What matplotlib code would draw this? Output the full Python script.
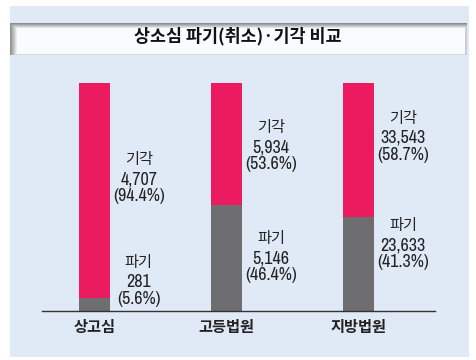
import matplotlib
matplotlib.use("Agg")
import matplotlib.pyplot as plt
import numpy as np
from matplotlib.patches import Rectangle

plt.rcParams['font.family'] = ['Archivo Narrow', 'Noto Sans CJK KR', 'DejaVu Sans']

# ---- data ----
categories = ['상고심', '고등법원', '지방법원']
reversed_counts = [281, 5146, 23633]      # 파기
dismissed_counts = [4707, 5934, 33543]    # 기각
reversed_pct = [5.6, 46.4, 41.3]
dismissed_pct = [94.4, 53.6, 58.7]
title = '상소심 파기(취소)·기각 비교'
reversed_name = '파기'
dismissed_name = '기각'

# label block centres (fraction of bar height), positions only
dismissed_label_y = [0.578, 0.718, 0.758]
reversed_label_y = [0.127, 0.232, 0.289]

BG = '#e0e9f6'
PINK = '#ec1a5e'
GRAY = '#6e6e70'
TXT = '#222222'

W, H = 476, 360
fig = plt.figure(figsize=(W / 100, H / 100), dpi=100)
fig.patch.set_facecolor('white')

# background panel
bgax = fig.add_axes([0, 0, 1, 1], zorder=-10)
bgax.set_xlim(0, W)
bgax.set_ylim(H, 0)
bgax.axis('off')
bgax.add_patch(Rectangle((10, 6), 459, 351, facecolor=BG, edgecolor='none'))

# title band with shaded edges
bh, bw = 32, 457
band = np.ones((bh, bw))
for r in range(bh):
    band[r, :] = np.minimum(band[r, :], 0.56 + 0.44 * min(1, r / 5.0))
for c in range(8):
    band[:, c] = np.minimum(band[:, c], 0.58 + 0.42 * (c / 7.0))
band[:, -2:] = np.minimum(band[:, -2:], 0.82)
band[-1, :] = np.minimum(band[-1, :], 0.86)
rgb = np.stack([band * 0.98, band * 0.985, band], axis=-1)
rgb = np.clip(rgb, 0, 1)
bax = fig.add_axes([10 / W, 1 - 55 / H, bw / W, bh / H], zorder=-5)
bax.imshow(rgb, aspect='auto', interpolation='bilinear')
bax.axis('off')
fig.text(238 / W, 1 - 36.5 / H, title, ha='center', va='center',
         fontsize=12.5, fontweight='bold', color='#111111',
         family=['Noto Sans CJK KR', 'DejaVu Sans'])

# main axes
ax = fig.add_axes([42 / W, 1 - 311 / H, (435 - 42) / W, (311 - 82.7) / H])
ax.set_facecolor('none')
x = np.arange(len(categories))
rb = np.array(reversed_pct) / 100
db = np.array(dismissed_pct) / 100
bw_ = 0.234
ax.bar(x, rb, width=bw_, color=GRAY, linewidth=0)
ax.bar(x, db, bottom=rb, width=bw_, color=PINK, linewidth=0)
ax.set_xlim(-0.397, 2.575)
ax.set_ylim(0, 1)
for s in ['top', 'right', 'left']:
    ax.spines[s].set_visible(False)
ax.spines['bottom'].set_color('#333333')
ax.spines['bottom'].set_linewidth(1.0)
ax.set_yticks([])
ax.set_xticks(x)
ax.set_xticklabels(categories, family=['Noto Sans CJK KR', 'DejaVu Sans'],
                   fontsize=11, fontweight='bold', color=TXT)
ax.tick_params(axis='x', length=0, pad=5.5)

def block(xi, yc, name, val, pct):
    lines = [(name, -19.5, ['Noto Sans CJK KR', 'DejaVu Sans'], 11),
             (f'{val:,}', 0, ['Archivo Narrow', 'DejaVu Sans'], 13),
             (f'({pct:.1f}%)', 17, ['Archivo Narrow', 'DejaVu Sans'], 13)]
    for t, off, fam, fs in lines:
        ax.annotate(t, xy=(xi + 0.335, yc), xytext=(0, -off * 0.72),
                    textcoords='offset points', ha='center', va='center',
                    fontsize=fs, color=TXT, family=fam)

for i in range(len(categories)):
    block(x[i], dismissed_label_y[i], dismissed_name, dismissed_counts[i], dismissed_pct[i])
    block(x[i], reversed_label_y[i], reversed_name, reversed_counts[i], reversed_pct[i])

fig.savefig('out.png', dpi=100, facecolor='white')
